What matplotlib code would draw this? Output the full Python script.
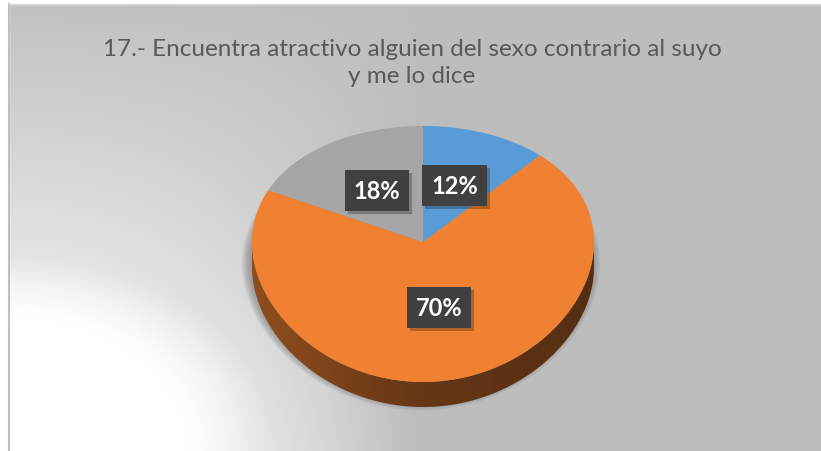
import numpy as np
import matplotlib
matplotlib.use("Agg")
import matplotlib.pyplot as plt
import matplotlib.patheffects as pe
from matplotlib.patches import Polygon, Rectangle
from matplotlib.colors import LinearSegmentedColormap, to_rgb

# ---- data ----
title = "17.- Encuentra atractivo alguien del sexo contrario al suyo\ny me lo dice"
categories = ["A", "B", "C"]
values = [12, 70, 18]
labels = ["12%", "70%", "18%"]
colors = ["#5b9bd5", "#f08132", "#a5a5a5"]

W, H = 821, 452
fig = plt.figure(figsize=(W / 100, H / 100), dpi=100)
ax = fig.add_axes([0, 0, 1, 1])
ax.set_xlim(0, W)
ax.set_ylim(H, 0)
ax.axis("off")

# ---- background ----
yy, xx = np.mgrid[0:H, 0:W].astype(float)
dx = np.clip(xx - 10.0, 0, None)
dy = np.clip(452.0 - yy, 0, None)
d = np.sqrt((dx / 250) ** 2 + (dy / 190) ** 2)
f1 = np.clip((1.5 - d) / 0.85, 0, 1)
f1 = f1 * f1 * (3 - 2 * f1)
f2 = np.clip(1 - dy / 470, 0, 1) * np.clip(1 - (dx / 400) ** 2, 0, 1)
f = np.maximum(f1, f2)
val = 0.745 + 0.255 * f
bg = np.dstack([val, val, val])
ax.imshow(bg, extent=(0, W, H, 0), zorder=0, interpolation="bilinear")
ax.add_patch(Rectangle((0, 0), W, 5, color="white", zorder=0.5))
ax.add_patch(Rectangle((0, 0), 8.5, H, color="white", zorder=0.5))
ax.plot([9, 9], [5, H], color="#bfbfbf", lw=1.5, zorder=0.6)
ax.plot([9, W], [5, 5], color="#d9d9d9", lw=1, zorder=0.6)

# ---- pie geometry ----
cx, cy = 423.0, 243.0
rx = 171.0
ry_up, ry_dn = 116.0, 140.0
b = (ry_up - ry_dn) / (ry_up + ry_dn)
a = ry_dn * (1 + b)
depth = 25.0


def pt(theta_deg, r=1.0, dz=0.0):
    th = np.radians(theta_deg)
    s = -r * np.sin(th)
    x = cx + rx * r * np.cos(th)
    y = cy + a * s / (1 + b * s) + dz
    return x, y


# shadow
for i in range(14):
    k = i / 13.0
    sx, sy = pt(np.linspace(0, 360, 200), 1.0 + 0.05 * (1 - k), depth * 0.6)
    ax.add_patch(Polygon(np.column_stack([sx - 2, sy + 6]), closed=True,
                         facecolor="#6f6f6f", edgecolor="none", alpha=0.05, zorder=1))

fracs = np.array(values, dtype=float) / sum(values)
start = 90.0
spans = []
for fr in fracs:
    end = start - 360 * fr
    spans.append((start, end))
    start = end

# sides (front half: angles 180..360)
for (s0, s1), col in zip(spans, colors):
    hi, lo = s0, s1
    for off in (0, -360, 360):
        a0 = max(lo + off, 180)
        a1 = min(hi + off, 360)
        if a1 > a0:
            th = np.linspace(a0, a1, 120)
            tx, ty = pt(th)
            bx, by = pt(th[::-1], 1.0, depth)
            poly = Polygon(np.column_stack([np.r_[tx, bx], np.r_[ty, by]]), closed=True,
                           facecolor="none", edgecolor="none", zorder=2)
            ax.add_patch(poly)
            c = np.array(to_rgb(col))
            cmap = LinearSegmentedColormap.from_list("side", [c * 0.60, c * 0.42, c * 0.36])
            grad = np.linspace(0, 1, 256)[None, :]
            im = ax.imshow(grad, cmap=cmap, extent=(cx - rx, cx + rx, cy + ry_dn + depth + 5, cy - 5),
                           aspect="auto", zorder=2, interpolation="bilinear")
            im.set_clip_path(poly)

# top surface
for (s0, s1), col in zip(spans, colors):
    th = np.linspace(s0, s1, 200)
    x, y = pt(th)
    ax.add_patch(Polygon(np.column_stack([np.r_[cx, x], np.r_[cy, y]]), closed=True,
                         facecolor=col, edgecolor="none", zorder=3))

# labels
fs_lab = 17
for (s0, s1), lab in zip(spans, labels):
    mid = (s0 + s1) / 2
    lx, ly = pt(mid, 0.5)
    t = ax.text(lx, ly, lab, ha="center", va="center", fontsize=fs_lab, fontweight="bold",
                family="Lato", color="white",
                bbox=dict(boxstyle="square,pad=0.38", facecolor="#404040", edgecolor="none"),
                zorder=5)
    t.get_bbox_patch().set_path_effects(
        [pe.SimplePatchShadow(offset=(2, -2), shadow_rgbFace="black", alpha=0.25), pe.Normal()])

# title
ax.text(412, 63, title, ha="center", va="center", fontsize=17.5, color="#595959",
        family="Lato", linespacing=1.32, zorder=6)

fig.savefig("out.png", dpi=100)
